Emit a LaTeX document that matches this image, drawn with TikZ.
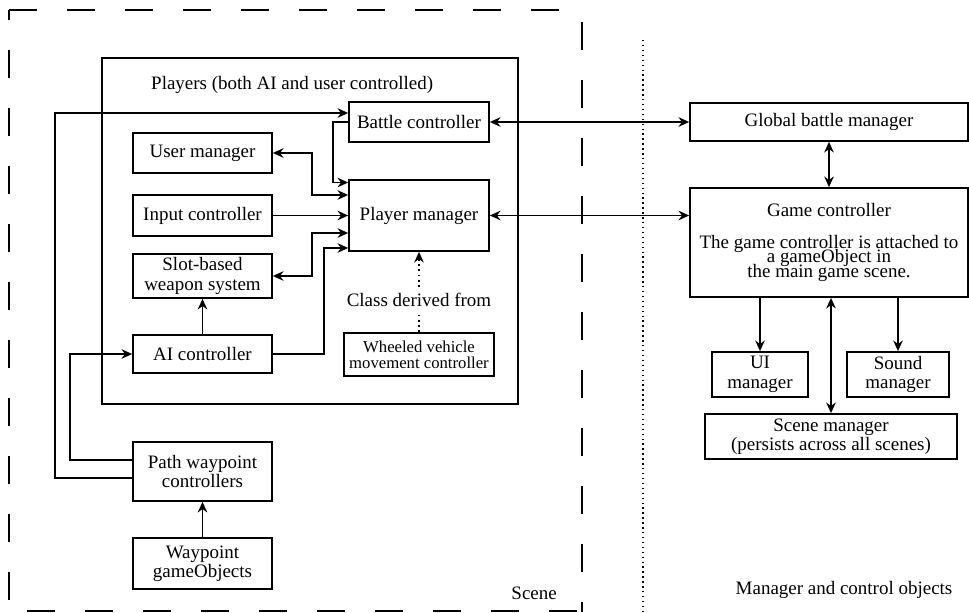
\documentclass[tikz,border=0pt]{standalone}
\usepackage{fontspec}
\setmainfont{Liberation Serif}
\usetikzlibrary{arrows.meta}

\begin{document}
\begin{tikzpicture}[
    >={Stealth[length=6pt,width=5.4pt]},
    box/.style={draw,line width=1pt,align=center,inner sep=1pt,font=\fontsize{10.8}{11}\selectfont},
    small/.style={font=\fontsize{9.5}{9}\selectfont},
    conn/.style={line width=1pt},
    txt/.style={font=\fontsize{10.8}{11}\selectfont},
    frame/.style={line width=1.1pt,dash pattern=on 0.56cm off 0.6cm}]
  \useasboundingbox (0,0) rectangle (19.38,12.24);
  % scene frame and divider
  \draw[frame] (0.18,12.04) -- (11.64,12.04);
  \draw[frame,dash phase=0.36cm] (0.18,12.04) -- (0.18,0);
  \draw[frame,dash phase=0.92cm] (11.64,12.04) -- (11.64,0);
  \draw[frame,dash phase=0.8cm] (0.18,0.02) -- (11.64,0.02);
  \draw[line width=0.8pt,dotted] (12.86,11.44) -- (12.86,0);
  \node[txt,anchor=east] (scene) at (11.26,0.38) {Scene};
  \node[txt] (mco) at (16.88,0.44) {Manager and control objects};

  % players
  \node[draw,line width=0.9pt,minimum width=8.32cm,minimum height=6.92cm] (players) at (6.2,7.62) {};
  \node[txt,anchor=west] (ptitle) at (2.9,10.54) {Players (both AI and user controlled)};
  \node[box,minimum width=2.8cm,minimum height=0.8cm] (bc) at (8.38,9.8) {Battle controller};
  \node[box,minimum width=2.78cm,minimum height=0.8cm] (um) at (4.05,9.18) {User manager};
  \node[box,minimum width=2.8cm,minimum height=1.42cm] (pm) at (8.38,7.93) {Player manager};
  \node[box,minimum width=2.78cm,minimum height=0.82cm] (ic) at (4.05,7.93) {Input controller};
  \node[box,minimum width=2.78cm,minimum height=0.88cm] (sw) at (4.05,6.72) {Slot-based\\weapon system};
  \node[box,minimum width=2.78cm,minimum height=0.76cm] (ai) at (4.05,5.16) {AI controller};
  \node[box,small,minimum width=3cm,minimum height=0.86cm] (wv) at (8.38,5.15) {Wheeled vehicle\\movement controller};
  \node[txt] (cdf) at (8.38,6.24) {Class derived from};

  % waypoints
  \node[box,minimum width=2.78cm,minimum height=1.18cm] (pw) at (4.05,2.81) {Path waypoint\\controllers};
  \node[box,minimum width=2.78cm,minimum height=1.02cm] (wg) at (4.05,0.97) {Waypoint\\gameObjects};

  % managers
  \node[box,minimum width=5.56cm,minimum height=0.76cm] (gbm) at (16.58,9.8) {Global battle manager};
  \node[box,minimum width=5.56cm,minimum height=2.18cm] (gc) at (16.58,7.39) {Game controller\\[7pt]The game controller is attached to\\[-2.6pt]a gameObject in\\[-2.6pt]the main game scene.};
  \node[box,minimum width=1.92cm,minimum height=0.9cm] (ui) at (15.2,4.75) {UI\\manager};
  \node[box,minimum width=2.04cm,minimum height=0.9cm] (sm) at (17.96,4.75) {Sound\\manager};
  \node[box,minimum width=5.04cm,minimum height=0.9cm] (scm) at (16.62,3.51) {Scene manager\\(persists across all scenes)};

  % connectors
  \draw[conn,->] ([yshift=-0.13cm]pw.west) -- ++(-1.55,0) |- ([yshift=0.18cm]bc.west);
  \draw[conn,->] ([yshift=0.23cm]pw.west) -- ++(-1.24,0) |- (ai.west);
  \draw[conn,->] (wg) -- (pw);
  \draw[conn,->] (ai) -- (sw);
  \draw[conn,->] (ai.east) -- ++(1.02,0) |- ([yshift=-0.65cm]pm.west);
  \draw[conn,<->] (sw.east) -- ++(0.78,0) |- ([yshift=-0.35cm]pm.west);
  \draw[conn,->] (ic) -- (pm);
  \draw[conn,<->] (um.east) -- ++(0.78,0) |- ([yshift=0.41cm]pm.west);
  \draw[conn,->] (bc.west) -- ++(-0.3,0) |- ([yshift=0.66cm]pm.west);
  \draw[conn,dotted] (wv) -- (cdf);
  \draw[conn,dotted,->] (cdf) -- (pm);
  \draw[conn,<->] (bc) -- (gbm);
  \draw[conn,<->] (pm.east) -- (pm.east -| gc.west);
  \draw[conn,<->] (gbm) -- (gc);
  \draw[conn,->] (ui.north |- gc.south) -- (ui);
  \draw[conn,->] (sm.north |- gc.south) -- (sm);
  \draw[conn,<->] (scm.north |- gc.south) -- (scm);
\end{tikzpicture}
\end{document}
